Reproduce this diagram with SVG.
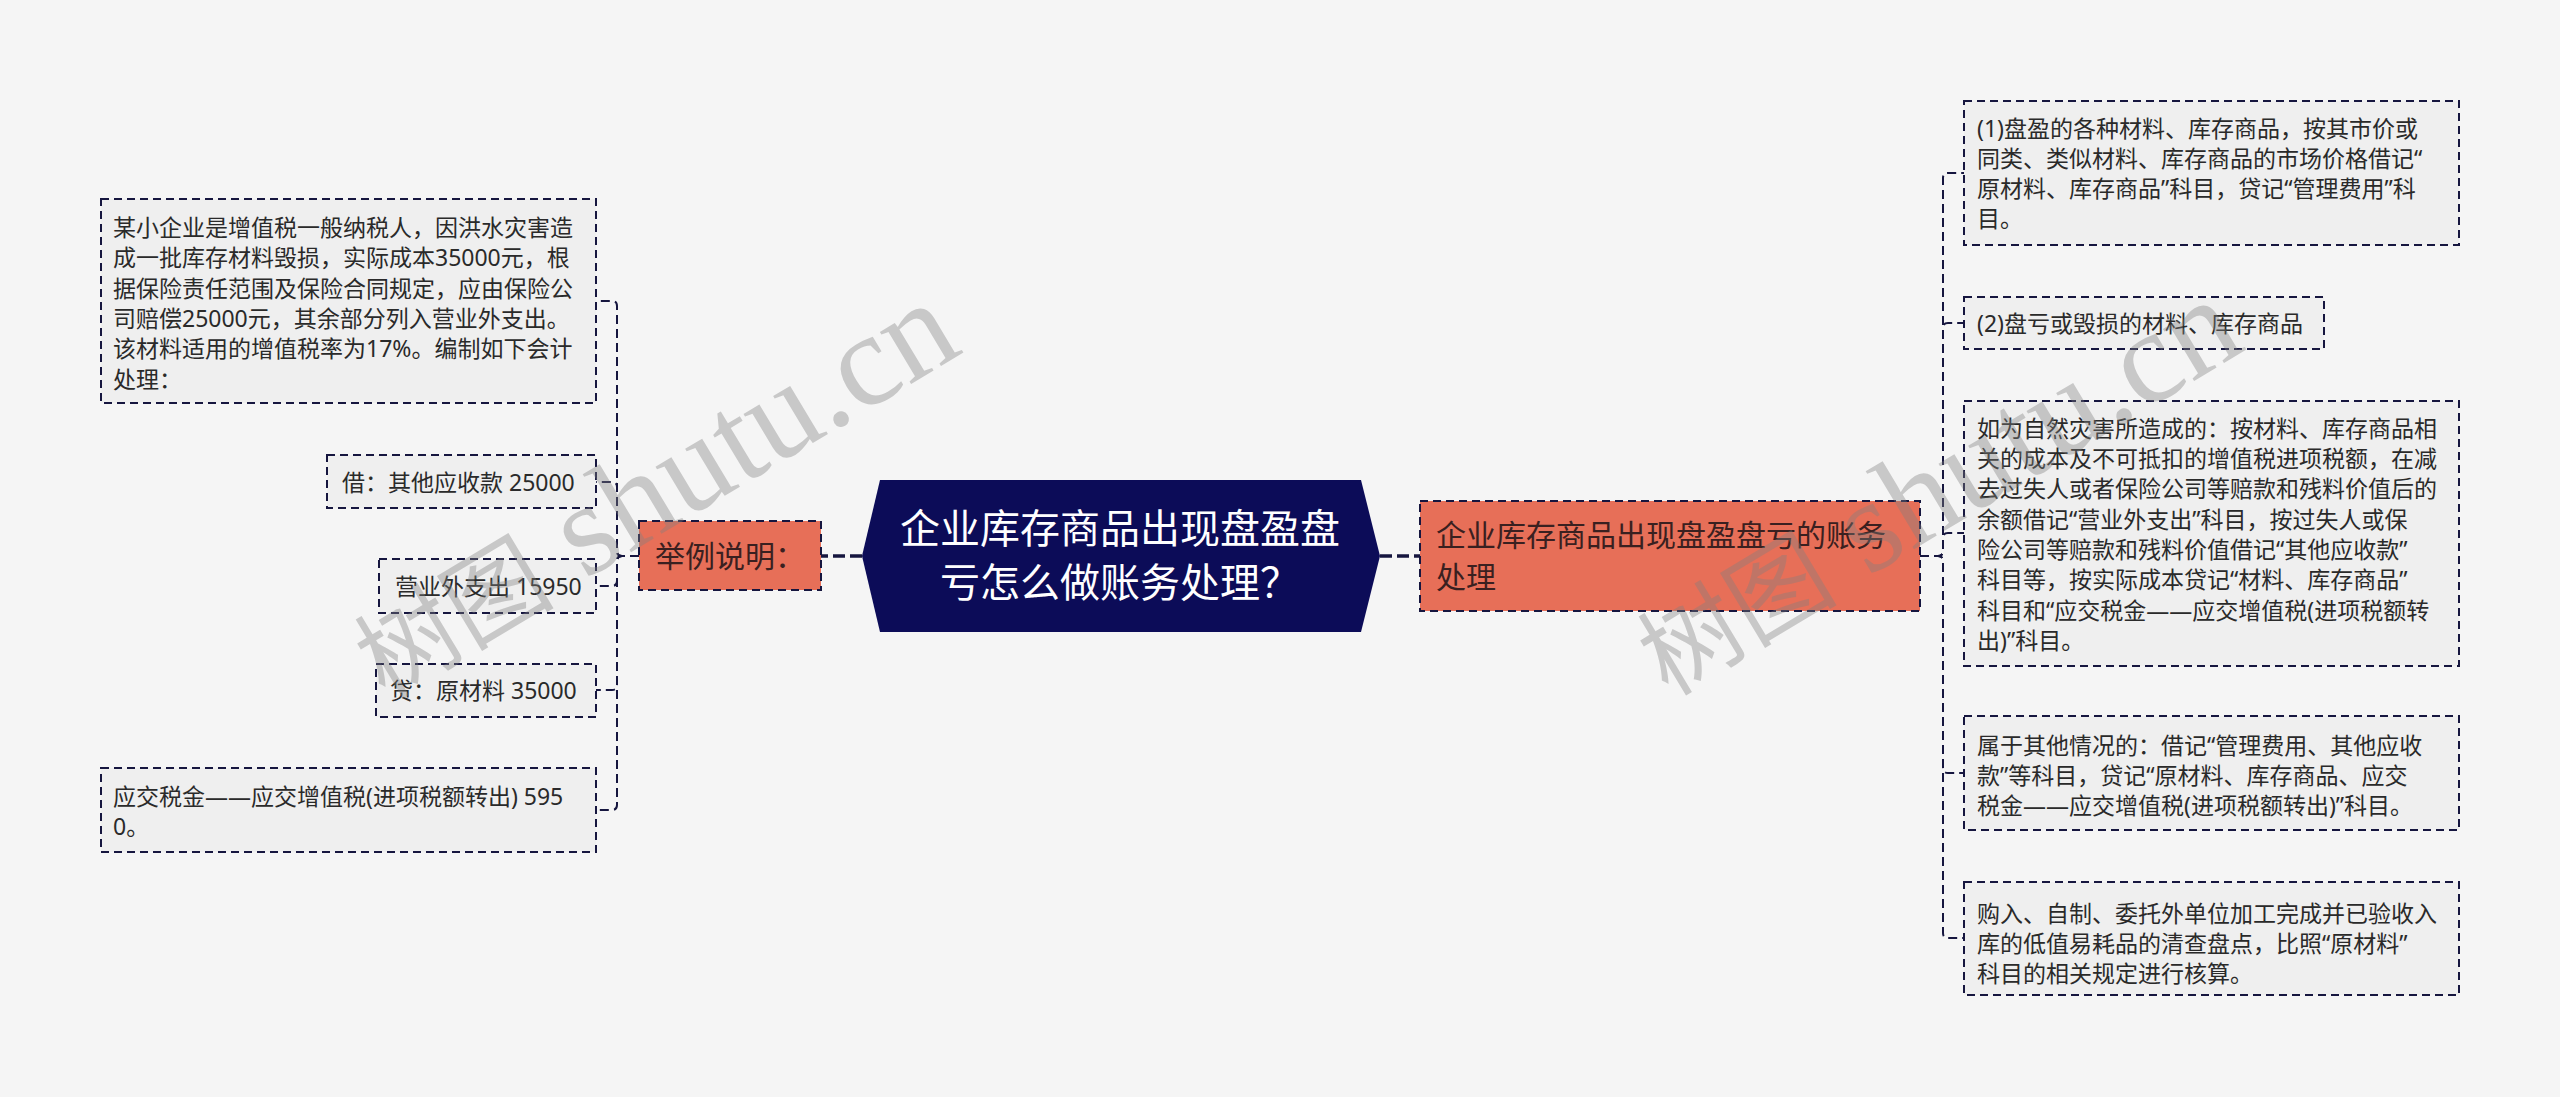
<svg xmlns="http://www.w3.org/2000/svg" width="2560" height="1097" viewBox="0 0 2560 1097">
<style>
  .bg { fill: #F5F5F5; }
  .leafbox { fill: #EFEFEF; stroke: #16163F; stroke-width: 2; stroke-dasharray: 8 5; }
  .l1box { fill: #E76F58; stroke: #16163F; stroke-width: 2; stroke-dasharray: 8 5; }
  .leaf { font-family: "Noto Sans", "Noto Sans CJK SC", sans-serif; font-size: 23px; fill: #2A2A2A; }
  .l1 { font-family: "Noto Sans CJK SC", "Noto Sans", sans-serif; font-size: 30px; fill: #3A2020; }
  .title { font-family: "Noto Sans CJK SC", "Noto Sans", sans-serif; font-size: 40px; fill: #FFFFFF; text-anchor: middle; }
  .conn { fill: none; stroke: #16163F; stroke-width: 2; stroke-dasharray: 9 5; }
  .main { fill: none; stroke: #16163F; stroke-width: 3.5; stroke-dasharray: 12 5; }
  .wm { font-family: "Liberation Serif", "Noto Sans CJK SC", serif; fill: #808080; opacity: 0.38; }
</style>
<rect class="bg" x="0" y="0" width="2560" height="1097"/>

<g id="connectors">
  <path class="main" d="M862,556 H821"/>
  <path class="main" d="M1380,556 H1420"/>
  <path class="conn" d="M639,556 H622 Q617,556 617,551 V306 Q617,301 612,301 H596"/>
  <path class="conn" d="M639,556 H622 Q617,556 617,551 V487 Q617,482 612,482 H596"/>
  <path class="conn" d="M639,556 H622 Q617,556 617,561 V581 Q617,586 612,586 H596"/>
  <path class="conn" d="M639,556 H622 Q617,556 617,561 V685 Q617,690 612,690 H596"/>
  <path class="conn" d="M639,556 H622 Q617,556 617,561 V805 Q617,810 612,810 H596"/>
  <path class="conn" d="M1920,556 H1938 Q1943,556 1943,551 V178 Q1943,173 1948,173 H1964"/>
  <path class="conn" d="M1920,556 H1938 Q1943,556 1943,551 V328 Q1943,323 1948,323 H1964"/>
  <path class="conn" d="M1920,556 H1938 Q1943,556 1943,551 V538 Q1943,533 1948,533 H1964"/>
  <path class="conn" d="M1920,556 H1938 Q1943,556 1943,561 V768 Q1943,773 1948,773 H1964"/>
  <path class="conn" d="M1920,556 H1938 Q1943,556 1943,561 V933 Q1943,938 1948,938 H1964"/>
</g>

<g id="root">
  <polygon points="862,556 880,480 1361,480 1380,556 1361,632 880,632" fill="#0C0C58"/>
  <text class="title"><tspan x="1120" y="543">企业库存商品出现盘盈盘</tspan><tspan x="1120" y="597">亏怎么做账务处理？</tspan></text>
</g>

<g id="example">
  <rect class="l1box" x="639" y="521" width="182" height="69"/>
  <text class="l1" x="655" y="567">举例说明：</text>
</g>

<g id="accounting">
  <rect class="l1box" x="1420" y="501" width="500" height="110"/>
  <text class="l1"><tspan x="1436" y="546">企业库存商品出现盘盈盘亏的账务</tspan><tspan x="1436" y="588">处理</tspan></text>
</g>

<g id="case">
  <rect class="leafbox" x="101" y="199" width="495" height="204"/>
  <text class="leaf">
    <tspan x="113" y="236">某小企业是增值税一般纳税人，因洪水灾害造</tspan>
    <tspan x="113" y="266.3">成一批库存材料毁损，实际成本35000元，根</tspan>
    <tspan x="113" y="296.6">据保险责任范围及保险合同规定，应由保险公</tspan>
    <tspan x="113" y="326.9">司赔偿25000元，其余部分列入营业外支出。</tspan>
    <tspan x="113" y="357.2">该材料适用的增值税率为17%。编制如下会计</tspan>
    <tspan x="113" y="387.5">处理：</tspan>
  </text>
</g>

<g id="debit">
  <rect class="leafbox" x="327" y="455" width="269" height="53"/>
  <text class="leaf" x="342" y="490.5">借：其他应收款 25000</text>
</g>

<g id="nonop">
  <rect class="leafbox" x="379" y="559" width="217" height="54"/>
  <text class="leaf" x="395" y="594.5">营业外支出 15950</text>
</g>

<g id="credit">
  <rect class="leafbox" x="376" y="664" width="220" height="53"/>
  <text class="leaf" x="390" y="698.5">贷：原材料 35000</text>
</g>

<g id="vat">
  <rect class="leafbox" x="101" y="768" width="495" height="84"/>
  <text class="leaf"><tspan x="113" y="804.5">应交税金——应交增值税(进项税额转出) 595</tspan><tspan x="113" y="834.8">0。</tspan></text>
</g>

<g id="surplus">
  <rect class="leafbox" x="1964" y="101" width="495" height="144"/>
  <text class="leaf">
    <tspan x="1977" y="136.5">(1)盘盈的各种材料、库存商品，按其市价或</tspan>
    <tspan x="1977" y="166.8">同类、类似材料、库存商品的市场价格借记“</tspan>
    <tspan x="1977" y="197.1">原材料、库存商品”科目，贷记“管理费用”科</tspan>
    <tspan x="1977" y="227.4">目。</tspan>
  </text>
</g>

<g id="loss">
  <rect class="leafbox" x="1964" y="297" width="360" height="52"/>
  <text class="leaf" x="1977" y="331.5">(2)盘亏或毁损的材料、库存商品</text>
</g>

<g id="disaster">
  <rect class="leafbox" x="1964" y="401" width="495" height="265"/>
  <text class="leaf">
    <tspan x="1977" y="436.8">如为自然灾害所造成的：按材料、库存商品相</tspan>
    <tspan x="1977" y="467.1">关的成本及不可抵扣的增值税进项税额，在减</tspan>
    <tspan x="1977" y="497.4">去过失人或者保险公司等赔款和残料价值后的</tspan>
    <tspan x="1977" y="527.7">余额借记“营业外支出”科目，按过失人或保</tspan>
    <tspan x="1977" y="558">险公司等赔款和残料价值借记“其他应收款”</tspan>
    <tspan x="1977" y="588.3">科目等，按实际成本贷记“材料、库存商品”</tspan>
    <tspan x="1977" y="618.6">科目和“应交税金——应交增值税(进项税额转</tspan>
    <tspan x="1977" y="648.9">出)”科目。</tspan>
  </text>
</g>

<g id="other">
  <rect class="leafbox" x="1964" y="716" width="495" height="114"/>
  <text class="leaf">
    <tspan x="1977" y="753.5">属于其他情况的：借记“管理费用、其他应收</tspan>
    <tspan x="1977" y="783.8">款”等科目，贷记“原材料、库存商品、应交</tspan>
    <tspan x="1977" y="814.1">税金——应交增值税(进项税额转出)”科目。</tspan>
  </text>
</g>

<g id="lowvalue">
  <rect class="leafbox" x="1964" y="882" width="495" height="113"/>
  <text class="leaf">
    <tspan x="1977" y="921.5">购入、自制、委托外单位加工完成并已验收入</tspan>
    <tspan x="1977" y="951.8">库的低值易耗品的清查盘点，比照“原材料”</tspan>
    <tspan x="1977" y="982.1">科目的相关规定进行核算。</tspan>
  </text>
</g>

<g id="watermarks">
  <text class="wm" transform="translate(385,700) rotate(-31)"><tspan font-size="100">树图</tspan><tspan font-size="132"> shutu.cn</tspan></text>
  <text class="wm" transform="translate(1668,697) rotate(-31)"><tspan font-size="100">树图</tspan><tspan font-size="132"> shutu.cn</tspan></text>
</g>
</svg>
